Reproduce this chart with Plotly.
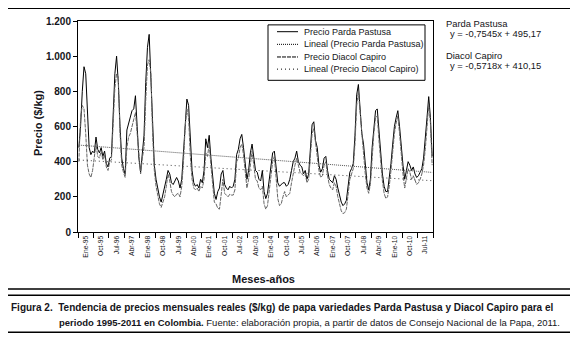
import plotly.graph_objects as go

# ---------------- data ----------------
parda = [
    480, 600, 800, 940, 900, 700, 480, 440, 460, 450, 540, 470,      # 1995
    450, 480, 430, 460, 390, 370, 420, 430, 650, 900, 1000, 850,     # 1996
    600, 420, 360, 330, 580, 620, 650, 690, 700, 775, 600, 420,      # 1997
    340, 470, 550, 850, 1050, 1124, 900, 600, 380, 300, 240, 200,    # 1998
    170, 210, 260, 300, 350, 330, 280, 270, 290, 310, 290, 250,      # 1999
    300, 450, 650, 756, 720, 500, 350, 280, 260, 270, 250, 300,      # 2000
    280, 350, 530, 480, 550, 420, 300, 220, 185, 230, 250, 330,      # 2001
    350, 270, 250, 240, 260, 250, 260, 300, 440, 470, 530, 555,      # 2002
    480, 380, 300, 350, 450, 500, 420, 350, 340, 300, 290, 350,      # 2003
    230, 190, 220, 300, 380, 450, 460, 380, 280, 260, 270, 280,      # 2004
    280, 260, 270, 300, 350, 400, 420, 460, 400, 380, 370, 330,      # 2005
    350, 300, 330, 500, 610, 627, 520, 480, 380, 340, 360, 420,      # 2006
    430, 350, 300, 290, 280, 320, 300, 250, 200, 170, 150, 160,      # 2007
    180, 260, 340, 360, 390, 550, 780, 839, 700, 560, 500, 380,      # 2008
    280, 240, 300, 480, 600, 690, 700, 560, 450, 330, 260, 230,      # 2009
    230, 300, 390, 500, 600, 650, 690, 600, 470, 380, 300, 350,      # 2010
    400, 380, 350, 370, 330, 310, 320, 340, 360, 420, 520, 650,      # 2011
    770, 650, 430,                                                   # 2012
]
diacol = [
    400, 650, 720, 700, 560, 380, 330, 310, 350, 420, 500, 430,      # 1995
    420, 460, 410, 440, 370, 350, 400, 410, 600, 820, 900, 880,      # 1996
    560, 380, 340, 310, 480, 540, 560, 600, 640, 680, 560, 440,      # 1997
    330, 420, 480, 750, 950, 980, 900, 560, 350, 260, 200, 160,      # 1998
    140, 170, 200, 260, 330, 290, 230, 210, 200, 215, 220, 200,      # 1999
    260, 400, 600, 700, 650, 430, 300, 250, 240, 250, 230, 260,      # 2000
    250, 300, 450, 430, 500, 380, 250, 170, 160, 135, 130, 200,      # 2001
    300, 220, 210, 200, 215, 210, 210, 240, 400, 420, 480, 500,      # 2002
    440, 330, 250, 300, 400, 460, 380, 300, 290, 250, 240, 260,      # 2003
    160, 130, 150, 230, 320, 400, 430, 300, 190, 150, 160, 200,      # 2004
    230, 200, 210, 220, 280, 340, 380, 420, 370, 340, 330, 320,      # 2005
    330, 280, 300, 450, 560, 590, 500, 440, 350, 310, 320, 380,      # 2006
    400, 320, 270, 250, 240, 280, 260, 200, 150, 120, 105, 110,      # 2007
    130, 200, 300, 330, 360, 500, 720, 800, 680, 520, 450, 330,      # 2008
    250, 220, 270, 440, 560, 650, 660, 520, 400, 290, 220, 190,      # 2009
    200, 260, 350, 460, 560, 620, 660, 560, 420, 330, 250, 300,      # 2010
    360, 340, 300, 320, 290, 270, 280, 300, 330, 380, 470, 600,      # 2011
    720, 620, 380,                                                   # 2012
]
month_names = ["Ene", "Feb", "Mar", "Abr", "May", "Jun",
               "Jul", "Ago", "Sep", "Oct", "Nov", "Dic"]
tick_labels = ["Ene-95", "Oct-95", "Jul-96", "Abr-97", "Ene-98", "Oct-98",
               "Jul-99", "Abr-00", "Ene-01", "Oct-01", "Jul-02", "Abr-03",
               "Ene-04", "Oct-04", "Jul-05", "Abr-06", "Ene-07", "Oct-07",
               "Jul-08", "Abr-09", "Ene-10", "Oct-10", "Jul-11"]
series_names = ["Precio Parda Pastusa", "Lineal (Precio Parda Pastusa)",
                "Precio Diacol Capiro", "Lineal (Precio Diacol Capiro)"]
# trend equations printed on the chart
parda_slope, parda_icpt = -0.7545, 495.17
diacol_slope, diacol_icpt = -0.5718, 410.15

n = len(parda)
x = list(range(n))
months = [f"{month_names[i % 12]}-{(95 + i // 12) % 100:02d}" for i in x]
parda_trend = [parda_slope * (i + 1) + parda_icpt for i in x]
diacol_trend = [diacol_slope * (i + 1) + diacol_icpt for i in x]

# ---------------- layout helpers ----------------
# page body has an 8px margin, so the figure is drawn 8px smaller and everything
# below is expressed in screenshot pixels
OFF = 8
W, H = 578 - OFF, 337 - OFF
L, R, T, B = 78, 433, 15, 232          # plot area in screenshot pixels
def pxx(v): return (v - L) / (R - L)
def pxy(v): return (B - v) / (B - T)

FONT = "Liberation Sans, Arial, sans-serif"
TXT = "#151520"

styles = [
    dict(color="black", width=1, dash="solid"),
    dict(color="#555", width=1, dash="1px,1px"),
    dict(color="#666", width=1, dash="4px,1px"),
    dict(color="#444", width=1, dash="1px,3px"),
]
ys = [parda, parda_trend, diacol, diacol_trend]

fig = go.Figure()
for name, yv, st in zip(series_names, ys, styles):
    fig.add_trace(go.Scatter(x=x, y=yv, mode="lines", name=name,
                             customdata=months,
                             hovertemplate="%{customdata}: %{y:.0f}<extra>" + name + "</extra>",
                             line=st))

tickvals = [9 * k + 4 for k in range(len(tick_labels))]
minor_vals = [9 * k - 0.5 for k in range(len(tick_labels) + 1)]

fig.update_layout(
    width=W, height=H, autosize=False,
    margin=dict(l=L - OFF, r=W - (R - OFF), t=T - OFF, b=H - (B - OFF)),
    paper_bgcolor="white", plot_bgcolor="white",
    separators=",.",
    font=dict(family=FONT, color=TXT, size=9),
    showlegend=False,
    xaxis=dict(range=[-0.5, n - 0.5], tickmode="array", tickvals=tickvals,
               ticktext=tick_labels, tickangle=-90, ticks="",
               tickfont=dict(family=FONT, size=6.8, color=TXT),
               minor=dict(tickmode="array", tickvals=minor_vals, ticks="outside",
                          ticklen=5, tickcolor="black", tickwidth=1),
               showline=True, linecolor="black", linewidth=1, mirror=True,
               showgrid=False, zeroline=False),
    yaxis=dict(range=[0, 1200], tickmode="linear", tick0=0, dtick=200,
               tickformat=",d", ticks="outside", ticklen=4, tickcolor="black",
               tickfont=dict(family=FONT, size=10, color=TXT, weight="bold"),
               showline=True, linecolor="black", linewidth=1, mirror=True,
               showgrid=False, zeroline=False),
)

ann = []
ann.append(dict(text="<b>Precio ($/kg)</b>", x=pxx(38), y=pxy(120), textangle=-90,
                font=dict(size=11)))
ann.append(dict(text="<b>Meses-años</b>", x=pxx(263), y=pxy(280), font=dict(size=11)))
ann.append(dict(text="Parda Pastusa", x=pxx(444), y=pxy(17.5), xanchor="left", font=dict(size=9.4)))
ann.append(dict(text="y = -0,7545x + 495,17", x=pxx(448), y=pxy(28), xanchor="left", font=dict(size=9.4)))
ann.append(dict(text="Diacol Capiro", x=pxx(444), y=pxy(50), xanchor="left", font=dict(size=9.4)))
ann.append(dict(text="y = -0,5718x + 410,15", x=pxx(448), y=pxy(60.5), xanchor="left", font=dict(size=9.4)))
ann.append(dict(text="<b>Figura 2.  Tendencia de precios mensuales reales ($/kg) de papa variedades Parda Pastusa y Diacol Capiro para el</b>",
                x=pxx(9), y=pxy(310), xanchor="left", font=dict(size=10)))
ann.append(dict(text="<b>periodo 1995-2011 en Colombia.</b> Fuente: elaboración propia, a partir de datos de Consejo Nacional de la Papa, 2011.",
                x=pxx(57), y=pxy(325), xanchor="left", font=dict(size=9.5)))

# hand-drawn legend (Excel-like compact box)
leg_rows = [26, 39, 52, 64.5]
shapes = [
    dict(type="rect", xref="paper", yref="paper", x0=pxx(3), x1=pxx(575), y0=pxy(2), y1=pxy(290.5),
         line=dict(color="black", width=1.5), layer="below"),
    dict(type="rect", xref="paper", yref="paper", x0=pxx(3), x1=pxx(575), y0=pxy(297), y1=pxy(335),
         line=dict(color="black", width=1.5), layer="below"),
    dict(type="rect", xref="paper", yref="paper", x0=pxx(268), x1=pxx(425), y0=pxy(19), y1=pxy(76),
         line=dict(color="black", width=1), fillcolor="white", layer="above"),
]
for name, st, ry in zip(series_names, styles, leg_rows):
    shapes.append(dict(type="line", xref="paper", yref="paper", x0=pxx(277), x1=pxx(298),
                       y0=pxy(ry), y1=pxy(ry), line=dict(color="black", width=1, dash=st["dash"]),
                       layer="above"))
    ann.append(dict(text=name, x=pxx(302), y=pxy(ry), xanchor="left", font=dict(size=9)))

for a in ann:
    a.update(xref="paper", yref="paper", showarrow=False)
    a.setdefault("xanchor", "center")
    a["yanchor"] = "middle"
fig.update_layout(annotations=ann, shapes=shapes)

fig.write_html("out.html")
